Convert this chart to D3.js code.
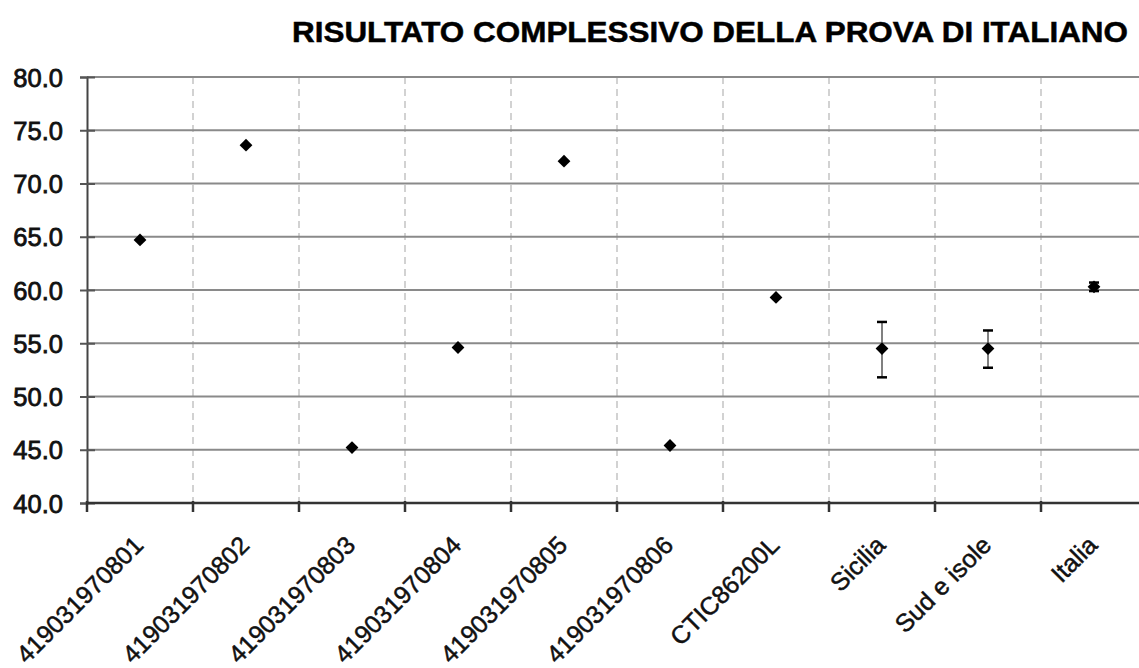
<!DOCTYPE html>
<html><head><meta charset="utf-8">
<script src="https://cdn.jsdelivr.net/npm/d3@7"></script>
<style>body{margin:0;background:#fff;overflow:hidden}svg{display:block}</style>
</head><body><svg id="c" width="1139" height="668"></svg>
<script>
const title = "RISULTATO COMPLESSIVO DELLA PROVA DI ITALIANO";
const categories = ["419031970801","419031970802","419031970803","419031970804","419031970805","419031970806","CTIC86200L","Sicilia","Sud e isole","Italia"];
const values = [64.7, 73.6, 45.2, 54.6, 72.1, 45.4, 59.3, 54.5, 54.5, 60.3];
const errLow = [null, null, null, null, null, null, null, 51.8, 52.7, 59.9];
const errHigh = [null, null, null, null, null, null, null, 57.0, 56.2, 60.7];
const yTicks = [40, 45, 50, 55, 60, 65, 70, 75, 80];

const svg = d3.select("#c");
const font = "'Liberation Sans', Arial, sans-serif";
const mLeft = 87, mRight = 1147, mTop = 77, mBottom = 503;

const x = d3.scaleBand().domain(categories).range([mLeft, mRight]).padding(0);
const y = d3.scaleLinear().domain([40, 80]).range([mBottom, mTop]);

// title
svg.append("text").attr("x", 292).attr("y", 42)
  .attr("font-family", font).attr("font-weight", "bold").attr("font-size", 29.5)
  .attr("textLength", 836).attr("lengthAdjust", "spacingAndGlyphs")
  .attr("fill", "#000").attr("stroke", "#000").attr("stroke-width", 0.5).text(title);

// vertical dashed gridlines at category boundaries
const bounds = categories.map(c => x(c)).slice(1);
svg.append("g").selectAll("line").data(bounds).join("line")
  .attr("x1", d => d).attr("x2", d => d).attr("y1", mTop).attr("y2", mBottom)
  .attr("stroke", "#c4c4c4").attr("stroke-width", 1.5).attr("stroke-dasharray", "7,5");

// horizontal gridlines
svg.append("g").selectAll("line").data(yTicks.filter(t => t > 40)).join("line")
  .attr("x1", mLeft).attr("x2", 1139).attr("y1", d => y(d)).attr("y2", d => y(d))
  .attr("stroke", "#8a8a8a").attr("stroke-width", 2);

// y axis
const yAxis = d3.axisLeft(y).tickValues(yTicks).tickFormat(d3.format(".1f")).tickSize(7).tickPadding(17);
const gy = svg.append("g").attr("transform", `translate(${mLeft},0)`).call(yAxis);
gy.select(".domain").attr("stroke", "#444").attr("stroke-width", 2);
gy.selectAll(".tick line").attr("stroke", "#555").attr("stroke-width", 2).attr("x2", 8).attr("x1", -7);
gy.selectAll(".tick text").attr("font-family", font).attr("font-size", 25.5).attr("fill", "#111")
  .attr("stroke", "#111").attr("stroke-width", 0.8).attr("dy", "0.36em");

// x axis
const xTickPos = categories.map(c => x(c)).concat([mRight]);
svg.append("line").attr("x1", mLeft).attr("x2", 1139).attr("y1", mBottom).attr("y2", mBottom)
  .attr("stroke", "#333").attr("stroke-width", 2.5);
svg.append("g").selectAll("line").data(xTickPos).join("line")
  .attr("x1", d => d).attr("x2", d => d).attr("y1", mBottom - 2).attr("y2", mBottom + 9)
  .attr("stroke", "#333").attr("stroke-width", 2.5);

svg.append("g").selectAll("text").data(categories).join("text")
  .attr("transform", d => `translate(${x(d) + x.bandwidth() / 2 - 8},${mBottom + 31}) rotate(-45)`)
  .attr("text-anchor", "end").attr("dy", "0.72em")
  .attr("font-family", font).attr("font-size", 25).attr("fill", "#111")
  .attr("stroke", "#111").attr("stroke-width", 0.5)
  .text(d => d);

// error bars
const cx = d => x(d) + x.bandwidth() / 2;
const eb = categories.map((c, i) => ({c, lo: errLow[i], hi: errHigh[i]})).filter(d => d.lo != null);
const ge = svg.append("g");
ge.selectAll("line.v").data(eb).join("line").attr("class", "v")
  .attr("x1", d => cx(d.c)).attr("x2", d => cx(d.c)).attr("y1", d => y(d.lo)).attr("y2", d => y(d.hi))
  .attr("stroke", "#808080").attr("stroke-width", 2);
["lo", "hi"].forEach(k => {
  ge.selectAll("line." + k).data(eb).join("line").attr("class", k)
    .attr("x1", d => cx(d.c) - 5).attr("x2", d => cx(d.c) + 5).attr("y1", d => y(d[k])).attr("y2", d => y(d[k]))
    .attr("stroke", "#000").attr("stroke-width", 2.5);
});

// markers
const sym = d3.symbol().type(d3.symbolSquare).size(82);
svg.append("g").selectAll("path").data(categories).join("path")
  .attr("d", sym)
  .attr("transform", (d, i) => `translate(${cx(d)},${y(values[i])}) rotate(45)`)
  .attr("fill", "#000");
</script></body></html>
